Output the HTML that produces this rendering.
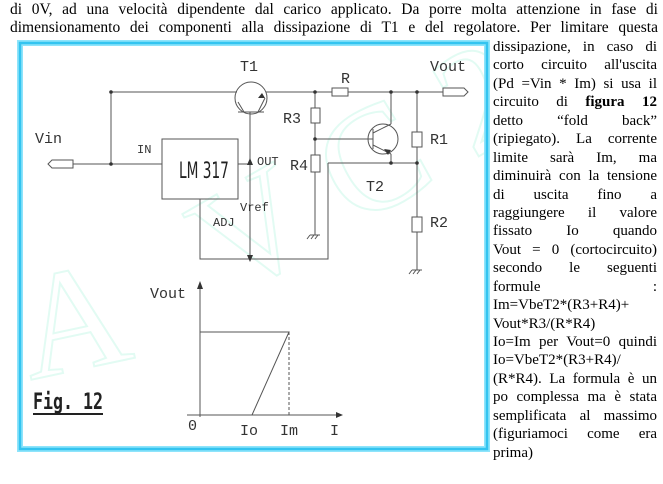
<!DOCTYPE html>
<html><head><meta charset="utf-8"><style>
body{margin:0;width:663px;height:484px;background:#fff;position:relative;overflow:hidden;font-family:"Liberation Serif",serif;color:#000}
.l{position:absolute;left:10px;width:648px;font-size:15.5px;line-height:18px;text-align:justify;text-align-last:justify;white-space:nowrap}
.r{position:absolute;left:493px;width:164px;font-size:15px;line-height:18.45px;top:38px}
.r div{text-align:justify;text-align-last:justify;white-space:nowrap;height:18.45px}
.r div.n{text-align-last:left}
svg{position:absolute;left:0;top:0}
</style></head><body>
<div class="l" style="top:1px">di 0V, ad una velocità dipendente dal carico applicato. Da porre molta attenzione in fase di</div>
<div class="l" style="top:19px">dimensionamento dei componenti alla dissipazione di T1 e del regolatore. Per limitare questa</div>
<div class="r">
<div>dissipazione, in caso di</div>
<div>corto circuito all'uscita</div>
<div>(Pd =Vin * Im) si usa il</div>
<div>circuito di <b>figura 12</b></div>
<div>detto “fold back”</div>
<div>(ripiegato). La corrente</div>
<div>limite sarà Im, ma</div>
<div>diminuirà con la tensione</div>
<div>di uscita fino a</div>
<div>raggiungere il valore</div>
<div>fissato Io quando</div>
<div>Vout = 0 (cortocircuito)</div>
<div>secondo le seguenti</div>
<div>formule :</div>
<div class="n">Im=VbeT2*(R3+R4)+</div>
<div class="n">Vout*R3/(R*R4)</div>
<div>Io=Im per Vout=0 quindi</div>
<div class="n">Io=VbeT2*(R3+R4)/</div>
<div>(R*R4). La formula è un</div>
<div>po complessa ma è stata</div>
<div>semplificata al massimo</div>
<div>(figuriamoci come era</div>
<div class="n">prima)</div>
</div>
<svg width="663" height="484" viewBox="0 0 663 484">
<defs><clipPath id="c"><rect x="22" y="46" width="463" height="400"/></clipPath></defs>
<g clip-path="url(#c)" font-family="Liberation Serif,serif" font-size="150" fill="none" stroke="#e2fbf3" stroke-width="2">
<text x="30" y="380" transform="rotate(-12 30 380)">A</text>
<text x="230" y="300" transform="rotate(-30 230 300)">V C 2011</text>
</g>
<rect x="20" y="43" width="467" height="406" fill="none" stroke="#8ee4fb" stroke-width="6"/>
<rect x="20" y="43" width="467" height="406" fill="none" stroke="#33c4f0" stroke-width="2.5"/>
<g stroke="#555" stroke-width="1" fill="none">
<path d="M111 92H237M266 92H443M111 92V164M73 164H162M238 164H250M250 112V259M315 92V108M315 123V155M315 172V235M315 139H368M328 163H417M328 163V259H200V199M417 92V132M417 147V217M417 232V270M391 92V124M391 154V163"/>
<rect x="332" y="88" width="16" height="8" fill="#fff"/>
<rect x="311" y="108" width="9" height="15" fill="#fff"/>
<rect x="311" y="155" width="9" height="17" fill="#fff"/>
<rect x="412" y="132" width="10" height="15" fill="#fff"/>
<rect x="412" y="217" width="10" height="15" fill="#fff"/>
<rect x="162" y="139" width="76" height="60"/>
<circle cx="251" cy="98" r="16"/>
<path d="M238 112H264M244 112L238 102M258 112L265 98"/>
<circle cx="383" cy="139" r="15"/>
<path d="M373 129V149M373 139H368M373 133L391 124M373 145L391 154"/>
<path d="M443 88H464L468 92L464 96H443Z"/>
<path d="M73 160H52L48 164L52 168H73Z"/>
<path d="M310 235H320M310 235L307 239M314 235L311 239M318 235L315 239"/>
<path d="M412 270H422M412 270L409 274M416 270L413 274M420 270L417 274"/>
<path d="M200 285V417M187 415H338M200 332H289L252 415"/>
<path d="M289 332V415" stroke-dasharray="3 2"/>
</g>
<g fill="#333">
<circle cx="111" cy="92" r="1.8"/><circle cx="315" cy="92" r="1.8"/><circle cx="391" cy="92" r="1.8"/><circle cx="417" cy="92" r="1.8"/>
<circle cx="111" cy="164" r="1.8"/><circle cx="315" cy="139" r="1.8"/><circle cx="391" cy="163" r="1.8"/><circle cx="417" cy="163" r="1.8"/>
<path d="M250 158L247 165H253Z"/><path d="M250 262L247 255H253Z"/>
<path d="M265 98L258 98L262 93Z"/><path d="M388 155L384 149L391 150Z"/>
<path d="M200 281L197 289H203Z"/><path d="M343 415L336 412V418Z"/>
</g>
<g font-family="Liberation Mono,monospace" font-size="15" fill="#333">
<text x="240" y="71">T1</text><text x="430" y="71">Vout</text><text x="341" y="83">R</text>
<text x="283" y="123">R3</text><text x="290" y="170">R4</text><text x="430" y="144">R1</text><text x="430" y="227">R2</text>
<text x="366" y="191">T2</text><text x="35" y="143">Vin</text>
<text x="150" y="298">Vout</text><text x="188" y="430">0</text><text x="240" y="435">Io</text><text x="280" y="435">Im</text><text x="330" y="435">I</text>
</g>
<g font-family="Liberation Mono,monospace" font-size="12" fill="#333">
<text x="137" y="153">IN</text><text x="257" y="165">OUT</text><text x="240" y="211">Vref</text><text x="213" y="226">ADJ</text>
</g>
<text transform="translate(179,178) scale(0.72,1.15)" font-family="DejaVu Sans,sans-serif" font-size="19" fill="#222">LM 317</text>
<text x="33" y="409" font-family="DejaVu Sans Mono,monospace" font-weight="bold" font-size="22" fill="#222" textLength="70" lengthAdjust="spacingAndGlyphs">Fig. 12</text>
<path d="M33 414H103" stroke="#222" stroke-width="2"/>
</svg>
</body></html>
